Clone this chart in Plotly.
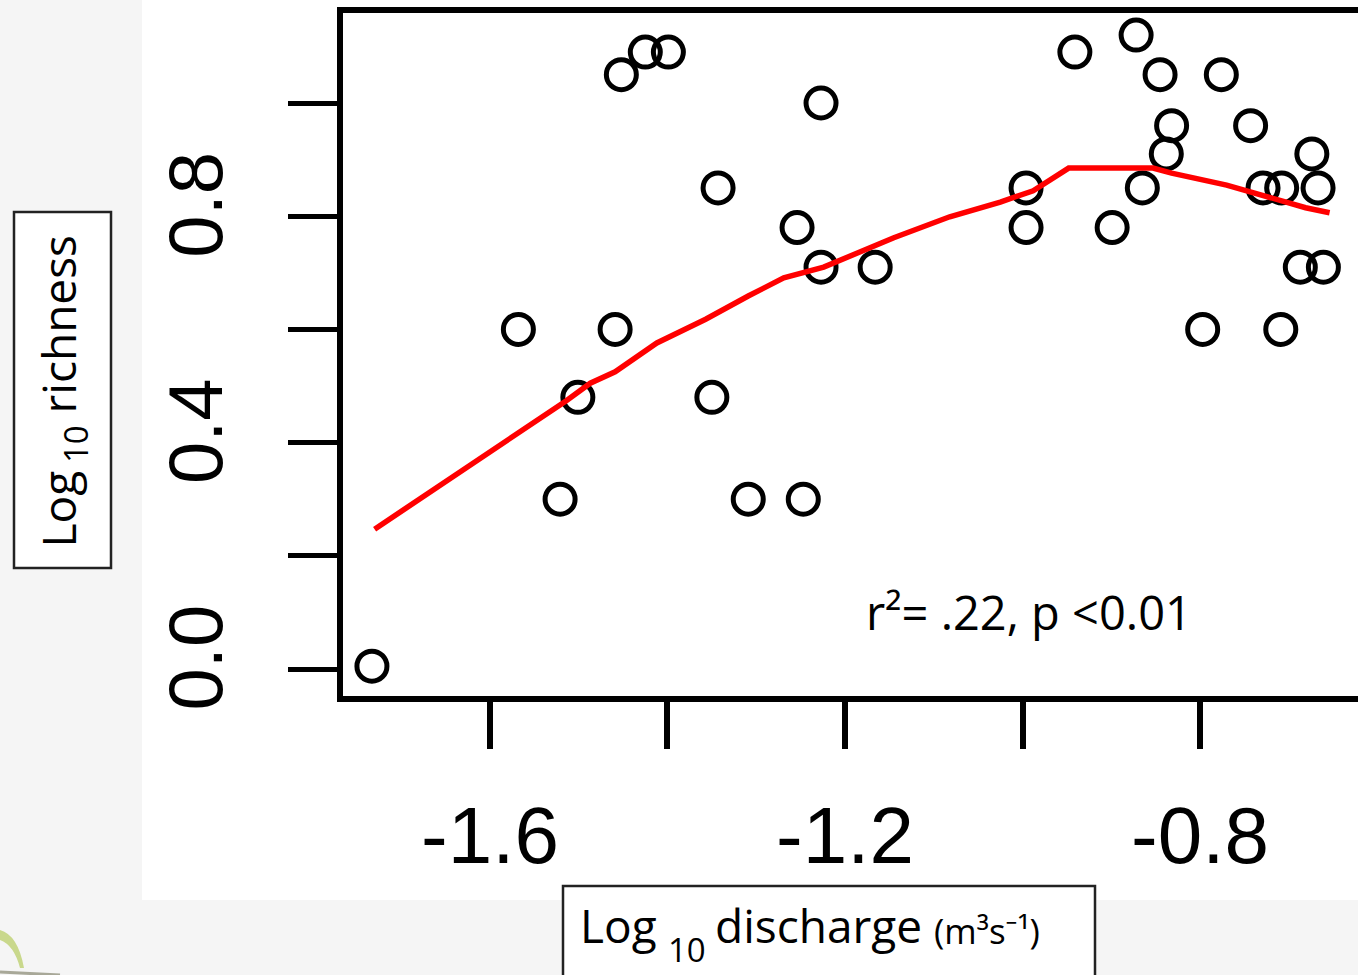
import plotly.graph_objects as go

# ---------------- data ----------------
discharge = [-1.733, -1.568, -1.521, -1.501, -1.459, -1.452, -1.425, -1.399,
             -1.343, -1.350, -1.309, -1.254, -1.247, -1.227, -1.227, -1.166,
             -0.996, -0.996, -0.941, -0.899, -0.872, -0.865, -0.845, -0.838,
             -0.832, -0.797, -0.776, -0.743, -0.729, -0.708, -0.667, -0.709,
             -0.674, -0.687, -0.661]
richness = [0.005, 0.60, 0.30, 0.48, 0.60, 1.05, 1.09, 1.09,
            0.85, 0.48, 0.30, 0.78, 0.30, 1.00, 0.71, 0.71,
            0.85, 0.78, 1.09, 0.78, 1.12, 0.85, 1.05, 0.91,
            0.96, 0.60, 1.05, 0.96, 0.85, 0.85, 0.85, 0.60,
            0.91, 0.71, 0.71]

loess_x = [-1.730, -1.691, -1.644, -1.603, -1.555, -1.514, -1.487, -1.459,
           -1.412, -1.357, -1.309, -1.269, -1.224, -1.193, -1.145, -1.082,
           -1.025, -0.988, -0.958, -0.948, -0.853, -0.832, -0.770, -0.726,
           -0.681, -0.654]
loess_y = [0.247, 0.288, 0.339, 0.380, 0.433, 0.474, 0.505, 0.525,
           0.576, 0.618, 0.659, 0.691, 0.710, 0.731, 0.762, 0.799,
           0.825, 0.845, 0.876, 0.885, 0.885, 0.876, 0.855, 0.834,
           0.815, 0.806]

x_tickvals = [-1.6, -1.4, -1.2, -1.0, -0.8]
x_ticktext = ["-1.6", "", "-1.2", "", "-0.8"]
y_tickvals = [0.0, 0.2, 0.4, 0.6, 0.8, 1.0]
y_ticktext = ["0.0", "", "0.4", "", "0.8", ""]

stat_text = "r²= .22, p <0.01"
x_title_parts = ["Log", "10", "discharge", "(m³s⁻¹)"]
y_title_parts = ["Log", "10", "richness"]

# ---------------- layout geometry (pixels) ----------------
W, H = 1358, 975
L, R, T, B = 343, 1358, 13, 696


def px(x):
    return (x - L) / (R - L)


def py(y):
    return (B - y) / (B - T)


fig = go.Figure()

fig.add_trace(go.Scatter(
    x=discharge, y=richness, mode="markers",
    marker=dict(symbol="circle-open", size=30, color="black",
                line=dict(width=5, color="black")),
    showlegend=False, hoverinfo="skip"))

fig.add_trace(go.Scatter(
    x=loess_x, y=loess_y, mode="lines",
    line=dict(color="#ff0000", width=5.5),
    showlegend=False, hoverinfo="skip"))

TICKFONT = "Liberation Sans, Arial, sans-serif"
TXTFONT = "Open Sans, Noto Sans, sans-serif"

fig.update_layout(
    template="none",
    width=W, height=H,
    margin=dict(l=L, r=W - R, t=T, b=H - B, pad=0),
    paper_bgcolor="#f5f5f5",
    plot_bgcolor="white",
    showlegend=False,
    xaxis=dict(range=[-1.7656, -0.6220], showgrid=False, zeroline=False,
               showline=True, linecolor="black", linewidth=6, mirror=True,
               ticks="outside", ticklen=47, tickwidth=6, tickcolor="black",
               tickvals=x_tickvals, ticktext=x_ticktext,
               tickfont=dict(family=TICKFONT, size=80, color="black"),
               ticklabelstandoff=18, automargin=False),
    yaxis=dict(range=[-0.0477, 1.1590], showgrid=False, zeroline=False,
               showline=True, linecolor="black", linewidth=6, mirror=False,
               ticks="outside", ticklen=49, tickwidth=5, tickcolor="black",
               tickvals=y_tickvals, ticktext=y_ticktext, tickangle=-90,
               tickfont=dict(family=TICKFONT, size=76, color="black"),
               ticklabelstandoff=36, automargin=False),
)

shapes = [
    # white slide region behind the chart
    dict(type="rect", xref="paper", yref="paper", layer="below",
         x0=px(142), x1=px(1400), y0=py(900), y1=py(-20),
         fillcolor="white", line=dict(width=0)),
    # y title box
    dict(type="rect", xref="paper", yref="paper", layer="below",
         x0=px(14), x1=px(111), y0=py(568), y1=py(212),
         fillcolor="white", line=dict(color="#222222", width=2.5)),
    # x title box
    dict(type="rect", xref="paper", yref="paper", layer="below",
         x0=px(563), x1=px(1095), y0=py(1000), y1=py(886),
         fillcolor="white", line=dict(color="#222222", width=2.5)),
    # small leaf in the corner
    dict(type="path", xref="paper", yref="paper", layer="below",
         path=f"M {px(0)},{py(930)} Q {px(18)},{py(935)} {px(24)},{py(968)} "
              f"L {px(20)},{py(968)} Q {px(14)},{py(945)} {px(0)},{py(940)} Z",
         fillcolor="#c9d88c", line=dict(width=0)),
    dict(type="line", xref="paper", yref="paper", layer="below",
         x0=px(0), x1=px(60), y0=py(972), y1=py(975),
         line=dict(color="#a8a898", width=3)),
]
fig.update_layout(shapes=shapes)

ann = []
# statistic text
ann.append(dict(text=stat_text, xref="paper", yref="paper",
                x=px(864), y=py(646), xanchor="left", yanchor="bottom",
                showarrow=False, font=dict(family=TXTFONT, size=47, color="black")))

# x title parts
x_parts_pos = [(578, 958, 46), (666, 974, 33), (713, 958, 46), (932, 956, 35)]
for t, (xx, yy, s) in zip(x_title_parts, x_parts_pos):
    ann.append(dict(text=t, xref="paper", yref="paper", x=px(xx), y=py(yy),
                    xanchor="left", yanchor="bottom", showarrow=False,
                    font=dict(family=TXTFONT, size=s, color="black")))

# y title parts (rotated)
y_parts_pos = [(57, 550, 46), (75, 465, 33), (57, 416, 46)]
for t, (xx, yy, s) in zip(y_title_parts, y_parts_pos):
    ann.append(dict(text=t, xref="paper", yref="paper", x=px(xx), y=py(yy),
                    xanchor="center", yanchor="bottom", textangle=-90,
                    showarrow=False,
                    font=dict(family=TXTFONT, size=s, color="black")))

fig.update_layout(annotations=ann)

fig.write_html("out.html")
